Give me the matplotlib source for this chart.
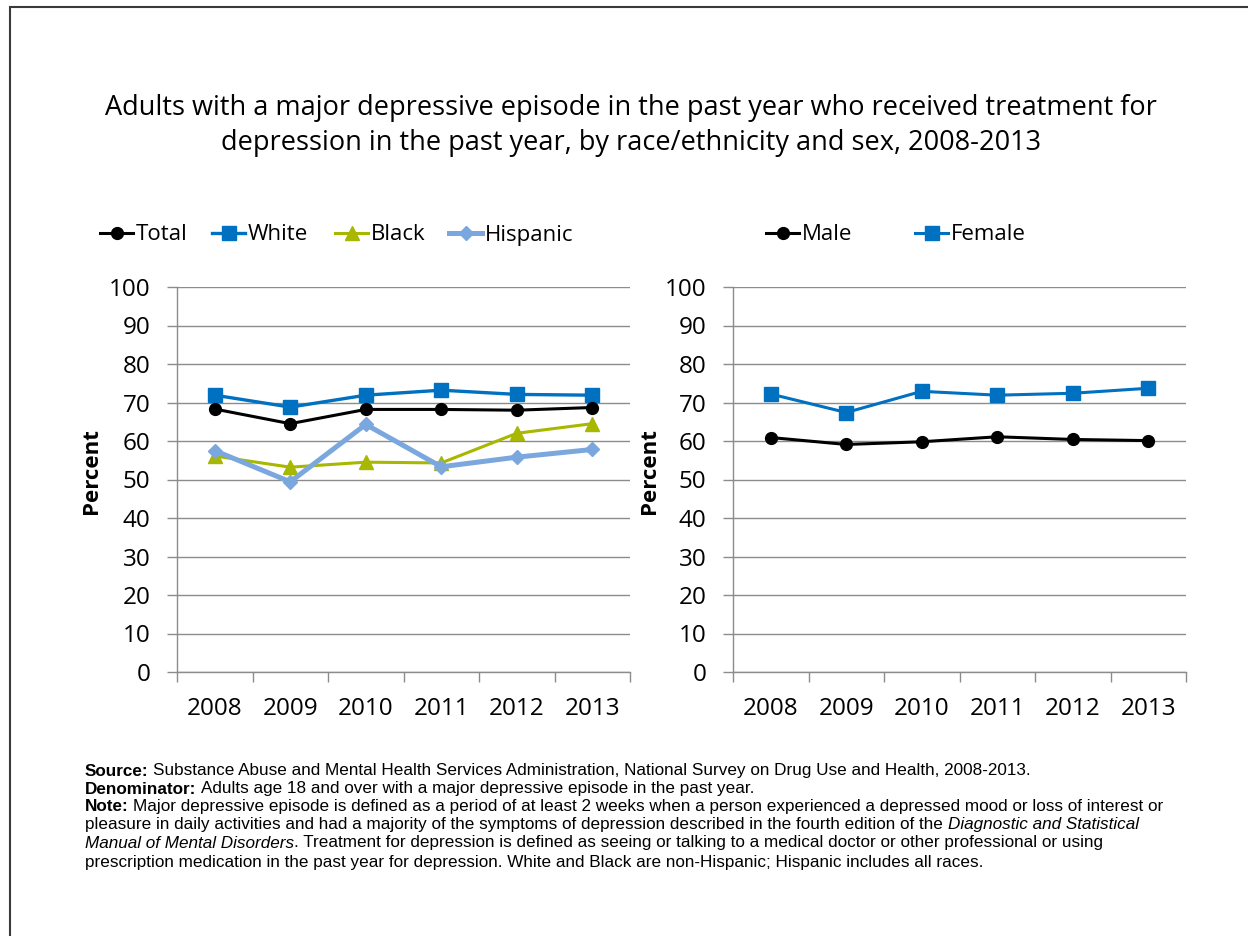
import matplotlib
matplotlib.use("Agg")
import matplotlib.pyplot as plt
from matplotlib.patches import Rectangle
from matplotlib.ticker import FixedLocator, NullFormatter

# ---- data -------------------------------------------------------------
years = ["2008", "2009", "2010", "2011", "2012", "2013"]

total = [68.3, 64.5, 68.2, 68.2, 68.0, 68.7]
white = [71.9, 68.8, 71.9, 73.2, 72.1, 71.9]
black = [56.1, 53.2, 54.5, 54.3, 62.0, 64.5]
hispanic = [57.5, 49.4, 64.3, 53.3, 55.8, 57.8]

male = [60.9, 59.1, 59.8, 61.1, 60.4, 60.1]
female = [72.2, 67.4, 72.9, 71.9, 72.4, 73.7]

yticks = list(range(0, 101, 10))

title_lines = [
    "Adults with a major depressive episode in the past year who received treatment for",
    "depression in the past year, by race/ethnicity and sex, 2008-2013",
]

# each footnote line is a run of (text, style) pieces
notes = [
    [("Source:", "bold"), ("Substance Abuse and Mental Health Services Administration, National Survey on Drug Use and Health, 2008-2013.", "normal")],
    [("Denominator:", "bold"), ("Adults age 18 and over with a major depressive episode in the past year.", "normal")],
    [("Note:", "bold"), ("Major depressive episode is defined as a period of at least 2 weeks when a person experienced a depressed mood or loss of interest or", "normal")],
    [("pleasure in daily activities and had a majority of the symptoms of depression described in the fourth edition of the ", "normal"), ("Diagnostic and Statistical", "italic")],
    [("Manual of Mental Disorders", "italic"), (". Treatment for depression is defined as seeing or talking to a medical doctor or other professional or using", "normal")],
    [("prescription medication in the past year for depression. White and Black are non-Hispanic; Hispanic includes all races.", "normal")],
]

# ---- style ------------------------------------------------------------
MAIN_FONT = ["Open Sans", "DejaVu Sans"]
NOTE_FONT = ["Liberation Sans", "DejaVu Sans"]
plt.rcParams["font.family"] = MAIN_FONT
GRID = "#8c8c8c"
FS_TICK = 17.5
FS_LEG = 16

W, H = 1248, 936
fig = plt.figure(figsize=(W / 100, H / 100), dpi=100)
fig.patch.set_facecolor("white")

# outer frame (only the left and top edges fall inside the canvas)
fig.patches.append(Rectangle((10 / W, -0.1), 1.2, 1 - 7 / H + 0.1,
                             transform=fig.transFigure, fill=False,
                             edgecolor="#3a3a3a", linewidth=1.5))


def px_axes(x0, x1, y0, y1):
    return fig.add_axes([x0 / W, 1 - y1 / H, (x1 - x0) / W, (y1 - y0) / H])


def style_axes(ax, label_x):
    x = list(range(len(years)))
    ax.set_xlim(-0.5, len(years) - 0.5)
    ax.set_ylim(0, 100)
    ax.set_yticks(yticks)
    ax.set_yticklabels([str(v) for v in yticks], fontsize=FS_TICK)
    ax.set_xticks(x)
    ax.set_xticklabels(years, fontsize=FS_TICK)
    ax.xaxis.set_minor_locator(FixedLocator([i - 0.5 for i in range(len(years) + 1)]))
    ax.xaxis.set_minor_formatter(NullFormatter())
    ax.tick_params(axis="x", which="major", length=0, pad=18)
    ax.tick_params(axis="x", which="minor", length=7, width=1, color=GRID)
    ax.tick_params(axis="y", length=7, width=1, color=GRID, pad=12)
    for s in ("top", "right"):
        ax.spines[s].set_visible(False)
    for s in ("left", "bottom"):
        ax.spines[s].set_color(GRID)
        ax.spines[s].set_linewidth(1)
    ax.grid(axis="y", color=GRID, linewidth=1)
    ax.set_axisbelow(True)
    ax.set_ylabel("Percent", fontsize=FS_LEG, fontweight="bold")
    ax.yaxis.set_label_coords(label_x, 0.522)
    return x


def add_entry(handle, label, x_px, y_px):
    fig.legend([handle], [label], loc="center left",
               bbox_to_anchor=(x_px / W, 1 - y_px / H), frameon=False,
               handlelength=1.5, handletextpad=0.12, borderpad=0,
               borderaxespad=0, fontsize=FS_LEG)


# ---- left panel: race/ethnicity -----------------------------------------
ax1 = px_axes(177, 630, 287, 672)
x = style_axes(ax1, -0.166)
l_tot, = ax1.plot(x, total, color="#000000", lw=2.2, marker="o", ms=8.5, zorder=5)
l_wht, = ax1.plot(x, white, color="#0070C0", lw=2.4, marker="s", ms=9.5, zorder=4)
l_blk, = ax1.plot(x, black, color="#A8B700", lw=2.2, marker="^", ms=10.5, zorder=3)
l_his, = ax1.plot(x, hispanic, color="#7BA7DF", lw=3.6, marker="D", ms=7.5, zorder=3)

add_entry(l_tot, "Total", 100, 235)
add_entry(l_wht, "White", 212, 235)
add_entry(l_blk, "Black", 335, 235)
add_entry(l_his, "Hispanic", 449, 235)

# ---- right panel: sex ---------------------------------------------------
ax2 = px_axes(733, 1186, 287, 672)
x = style_axes(ax2, -0.161)
l_m, = ax2.plot(x, male, color="#000000", lw=2.2, marker="o", ms=8.5, zorder=5)
l_f, = ax2.plot(x, female, color="#0070C0", lw=2.2, marker="s", ms=9.5, zorder=4)

add_entry(l_m, "Male", 766, 235)
add_entry(l_f, "Female", 915, 235)

# ---- title --------------------------------------------------------------
fig.text(631 / W, 1 - 108 / H, title_lines[0], ha="center", va="center", fontsize=19.5)
fig.text(631 / W, 1 - 143 / H, title_lines[1], ha="center", va="center", fontsize=19.5)

# ---- footnotes ------------------------------------------------------------
ypos = [771, 789, 806.5, 825, 843, 862]
for segs, yp in zip(notes, ypos):
    prev = None
    prev_style = None
    for text, style in segs:
        kw = dict(fontsize=12.3, family=NOTE_FONT,
                  fontweight="bold" if style == "bold" else "normal",
                  fontstyle="italic" if style == "italic" else "normal")
        if prev is None:
            prev = fig.text(85 / W, 1 - yp / H, text, ha="left", va="center", **kw)
        else:
            gap = 3.0 if prev_style == "bold" else 0.0
            prev = plt.annotate(text, xy=(1, 0.5), xycoords=prev,
                                xytext=(gap, 0), textcoords="offset points",
                                ha="left", va="center", annotation_clip=False, **kw)
        prev_style = style

fig.savefig("out.png", dpi=100)
